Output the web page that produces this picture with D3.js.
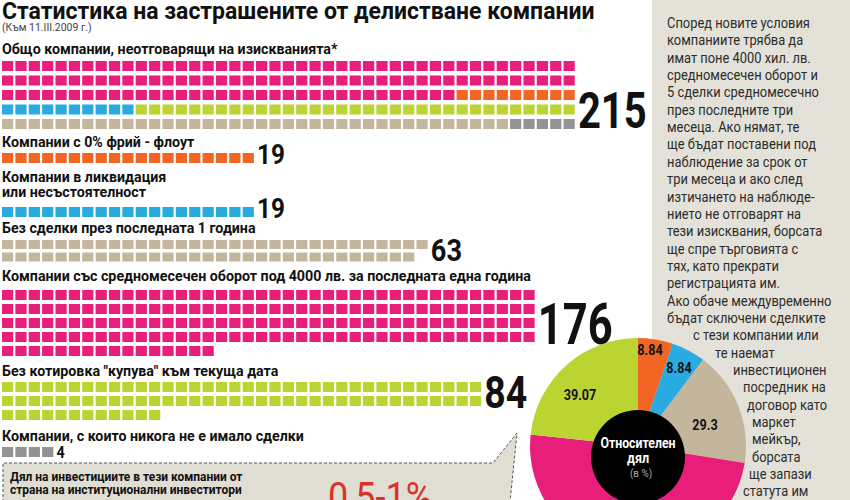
<!DOCTYPE html>
<html><head><meta charset="utf-8">
<script src="https://cdn.jsdelivr.net/npm/d3@7"></script>
<style>body{margin:0;background:#fff}svg{display:block}</style>
</head><body>
<svg id="c" width="850" height="500"></svg>
<script>
// ---- data ----
const totalParts = [120, 9, 10, 33, 38, 5];
const totalColors = ["#e91e7b", "#f26522", "#29abe2", "#bcd431", "#c4b69c", "#939395"];
const totalValue = 215;
const catLabels = [
  ["Компании с 0% фрий - флоут"],
  ["Компании в ликвидация", "или несъстоятелност"],
  ["Без сделки през последната 1 година"],
  ["Компании със средномесечен оборот под 4000 лв. за последната една година"],
  ["Без котировка \"купува\" към текуща дата"],
  ["Компании, с които никога не е имало сделки"]
];
const catValues = [19, 19, 63, 176, 84, 4];
const catCols = [19, 19, 32, 40, 36, 4];
const catColors = ["#f26522", "#29abe2", "#c4b69c", "#e91e7b", "#bcd431", "#939395"];
const pieLabels = ["8.84", "8.84", "29.3", "", "39.07"];
const pieShares = [5.2, 5.1, 17.2, 49.2, 23.3];
const pieColors = ["#f26522", "#29abe2", "#c4b69c", "#e91e7b", "#bcd431"];
const noteLines = ["Според новите условия","компаниите трябва да","имат поне 4000 хил. лв.","средномесечен оборот и","5 сделки средномесечно","през последните три","месеца. Ако нямат, те","ще бъдат поставени под","наблюдение за срок от","три месеца и ако след","изтичането на наблюде-","нието не отговарят на","тези изисквания, борсата","ще спре търговията с","тях, като прекрати","регистрацията им.","Ако обаче междувременно","бъдат сключени сделките","с тези компании или","те  наемат","инвестиционен","посредник на","договор като","маркет","мейкър,","борсата","ще запази","статута им"];

// ---- layout ----
const svg = d3.select("#c");
const F = "Roboto, 'Noto Sans', sans-serif";
function T(px, py, txt, size, bold, sx, fill, anchor) {
  return svg.append("text").attr("transform", `translate(${px},${py}) scale(${sx},1)`)
    .attr("font-family", F).attr("font-weight", bold ? "bold" : "normal").attr("font-size", size)
    .attr("fill", fill || "#111").attr("text-anchor", anchor || "start").text(txt);
}
const pitchX = 13.37, cellW = 11.2, cellH = 10;
const x = d3.scaleLinear().domain([0, 43]).range([2, 2 + 43 * pitchX]);

// right panel
svg.append("rect").attr("x", 652).attr("y", 0).attr("width", 198).attr("height", 500).attr("fill", "#e4e2d8");
const noteX = [667,667,667,667,667,667,667,667,667,667,667,667,667,667,667,667,667,667,693,715,733,743,747,752,752,752,749,743];
noteLines.forEach((t, i) => T(noteX[i], 28 + i * 17.35, t, 15, false, 0.86, "#2b2b2b"));

// title
T(2, 19, "Статистика на застрашените от делистване компании", 23, true, 1.0);
T(2, 31, "(Към 11.III.2009 г.)", 11, false, 0.95, "#444");
T(2, 54, "Общо компании, неотговарящи на изискванията*", 15, true, 0.95);

// total waffle
const totalCells = [];
totalParts.forEach((n, k) => { for (let i = 0; i < n; i++) totalCells.push(totalColors[k]); });
svg.append("g").selectAll("rect").data(totalCells).join("rect")
  .attr("x", (d, i) => x(i % 43)).attr("y", (d, i) => 61 + Math.floor(i / 43) * 14.5)
  .attr("width", cellW).attr("height", cellH).attr("fill", d => d);
T(x(43) + 1, 128, totalValue, 50, true, 0.8);

// category blocks
const labelY = [[147], [182, 197], [233], [281], [376], [441]];
const rowY = [153, 207, 240, 290, 382, 447];
const rowPitch = [14, 14, 12.5, 14, 14, 14];
const numSize = [27, 27, 32, 58, 44, 16];
const numSx = [0.9, 0.9, 0.85, 0.75, 0.85, 0.9];
const numBase = [164, 218, 261, 344, 408, 458];
catLabels.forEach((lines, k) => {
  lines.forEach((t, j) => T(2, labelY[k][j], t, 15, true, 0.95));
  const cells = d3.range(catValues[k]);
  svg.append("g").selectAll("rect").data(cells).join("rect")
    .attr("x", i => x(i % catCols[k])).attr("y", i => rowY[k] + Math.floor(i / catCols[k]) * rowPitch[k])
    .attr("width", cellW).attr("height", k === 2 ? 9 : cellH).attr("fill", catColors[k]);
  T(x(catCols[k]) + 1, numBase[k], catValues[k], numSize[k], true, numSx[k]);
});

// bottom callout box
svg.append("path").attr("d", "M3,502 L3,463 L493,463 L517,433 L510,502")
  .attr("fill", "#e0ddd2").attr("stroke", "#555").attr("stroke-dasharray", "3,2").attr("stroke-width", 1);
["Дял на инвестициите в тези компании  от", "страна на институционални инвеститори"].forEach((t, j) =>
  T(10, 481 + j * 13, t, 13, true, 0.92));
T(328, 511, "0,5-1%", 40, false, 0.9, "#d9342b");

// pie
const pcx = 638, pcy = 446, R = 108;
const pie = d3.pie().sort(null).value(d => d)(pieShares);
const arc = d3.arc().innerRadius(0).outerRadius(R);
const pg = svg.append("g").attr("transform", `translate(${pcx},${pcy})`);
pg.selectAll("path").data(pie).join("path").attr("d", arc).attr("fill", (d, i) => pieColors[i]);
svg.append("circle").attr("cx", pcx).attr("cy", 457).attr("r", 47).attr("fill", "#000");
const labPos = [[650, 355], [679, 373], [705, 430], null, [580, 400]];
pieLabels.forEach((t, i) => { if (t) T(labPos[i][0], labPos[i][1], t, 14, true, 0.9, "#111", "middle"); });
T(pcx, 448, "Относителен", 14, true, 0.88, "#fff", "middle");
T(pcx, 463, "дял", 14, true, 0.9, "#fff", "middle");
T(pcx + 3, 477, "(в %)", 11, false, 0.9, "#aaa", "middle");
</script>
</body></html>
